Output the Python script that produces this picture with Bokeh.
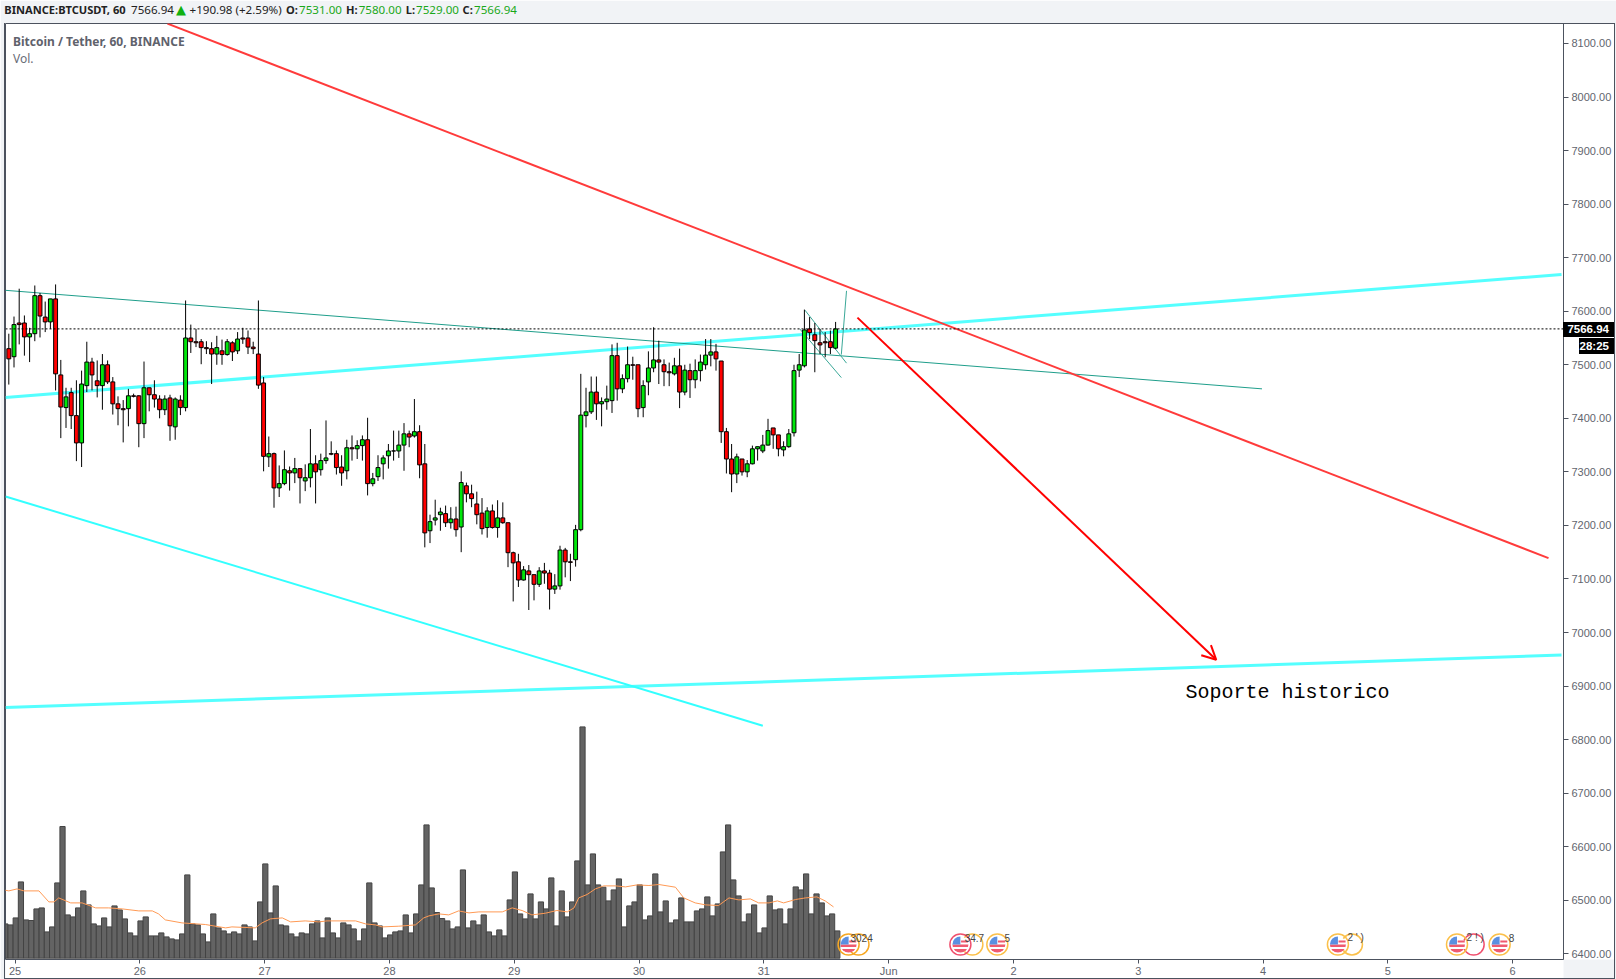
from bokeh.plotting import figure
from bokeh.models import (Range1d, FixedTicker, NumeralTickFormatter, Label, Div,
                          Span, Arrow, OpenHead)
from bokeh.layouts import column
from bokeh.core.properties import value
from bokeh.embed import file_html
from bokeh.resources import INLINE
import math

# ------------------------------------------------------------- data
open_ = [7530,7515,7578,7578,7552,7558,7629,7589,7580,7623,
7481,7420,7448,7405,7354,7461,7505,7470,7461,7500,
7468,7427,7418,7418,7442,7442,7390,7457,7444,7436,
7416,7438,7384,7434,7420,7550,7543,7543,7532,7530,
7520,7526,7519,7541,7526,7550,7550,7533,7520,7466,
7328,7334,7270,7278,7302,7298,7306,7283,7289,7315,
7304,7321,7334,7334,7309,7302,7345,7343,7349,7360,
7278,7291,7315,7330,7339,7339,7350,7371,7367,7375,
7315,7190,7210,7220,7222,7205,7212,7197,7274,7259,
7240,7223,7196,7227,7196,7214,7205,7149,7132,7098,
7115,7108,7090,7115,7111,7081,7087,7154,7132,7136,
7192,7405,7412,7449,7427,7431,7433,7517,7455,7474,
7500,7500,7420,7468,7494,7509,7500,7487,7483,7498,
7449,7489,7472,7489,7500,7518,7524,7507,7375,7324,
7296,7324,7300,7315,7343,7339,7350,7382,7369,7341,
7347,7373,7490,7498,7567,7556,7541,7543,7543,7531]
high = [7558,7590,7642,7592,7569,7648,7634,7618,7623,7650,
7509,7457,7457,7471,7489,7543,7513,7508,7520,7508,
7477,7441,7434,7455,7446,7443,7506,7457,7471,7443,
7443,7444,7439,7443,7620,7575,7567,7548,7544,7542,
7554,7547,7548,7544,7561,7569,7564,7543,7620,7477,
7366,7336,7312,7340,7310,7326,7306,7314,7380,7331,
7334,7396,7357,7340,7331,7360,7368,7359,7368,7401,
7298,7331,7331,7352,7377,7377,7391,7377,7436,7387,
7352,7220,7248,7233,7237,7234,7235,7301,7280,7276,
7263,7251,7234,7239,7247,7243,7205,7151,7147,7124,
7126,7108,7122,7130,7117,7109,7162,7158,7147,7201,
7483,7457,7478,7478,7439,7461,7538,7541,7482,7534,
7515,7500,7471,7525,7570,7545,7510,7504,7513,7530,
7500,7502,7510,7519,7548,7548,7539,7507,7382,7352,
7334,7324,7322,7349,7347,7369,7399,7382,7369,7357,
7380,7500,7520,7603,7589,7578,7567,7561,7564,7580]
low = [7463,7495,7538,7517,7505,7544,7551,7561,7567,7452,
7363,7382,7380,7320,7309,7449,7452,7439,7416,7464,
7407,7387,7355,7385,7439,7346,7363,7413,7420,7400,
7406,7358,7360,7406,7413,7522,7533,7501,7520,7464,
7500,7500,7517,7507,7520,7539,7520,7520,7455,7301,
7309,7233,7253,7275,7265,7279,7241,7264,7271,7241,
7293,7315,7331,7295,7274,7286,7321,7324,7321,7256,
7273,7283,7286,7306,7321,7326,7302,7346,7364,7288,
7159,7167,7200,7190,7197,7194,7179,7150,7243,7234,
7202,7183,7177,7194,7177,7203,7122,7058,7085,7097,
7042,7060,7085,7091,7043,7072,7080,7103,7096,7123,
7189,7383,7408,7397,7385,7416,7410,7433,7447,7467,
7472,7402,7402,7443,7486,7464,7460,7460,7480,7419,
7443,7438,7456,7469,7491,7497,7489,7354,7297,7262,
7279,7293,7290,7314,7321,7335,7349,7343,7329,7329,
7345,7366,7477,7495,7548,7486,7520,7514,7520,7529]
close = [7511,7575,7575,7552,7558,7629,7591,7580,7623,7483,
7421,7440,7405,7354,7464,7505,7481,7461,7500,7468,
7427,7418,7416,7442,7441,7390,7457,7444,7436,7416,
7436,7386,7436,7420,7550,7543,7541,7532,7530,7520,
7532,7519,7543,7524,7548,7548,7533,7530,7462,7329,
7334,7270,7278,7304,7298,7306,7289,7289,7315,7300,
7321,7326,7333,7308,7298,7345,7343,7349,7360,7278,
7287,7308,7326,7339,7339,7350,7371,7365,7375,7313,
7186,7207,7214,7225,7205,7212,7192,7280,7259,7250,
7220,7194,7227,7196,7214,7205,7149,7130,7098,7117,
7108,7090,7115,7111,7081,7087,7154,7132,7131,7192,
7406,7412,7449,7427,7431,7436,7517,7455,7474,7500,
7499,7418,7461,7494,7509,7505,7487,7485,7498,7449,
7490,7472,7489,7505,7518,7524,7511,7375,7324,7296,
7328,7300,7315,7343,7347,7350,7377,7369,7343,7347,
7371,7489,7500,7565,7560,7545,7537,7541,7532,7566.94]
volume = [343,
333,403,763,383,377,493,503,263,313,753,
1317,433,413,503,673,533,343,323,403,313,
523,483,393,253,223,373,413,223,223,253,
213,193,183,243,833,343,333,243,163,443,
303,273,243,263,243,333,313,173,563,943,
453,723,333,323,243,213,253,243,343,373,
203,403,253,203,353,333,293,173,293,753,
353,323,203,233,263,273,433,253,443,733,
1333,703,457,397,373,293,313,883,303,373,
333,433,263,223,283,223,583,863,443,393,
643,393,563,493,803,323,673,413,563,973,
2313,733,1043,733,710,573,683,793,313,523,
563,733,383,423,843,463,573,353,383,603,
363,363,473,493,613,423,543,1063,1333,783,
623,363,443,533,253,303,623,483,493,343,
493,713,683,843,443,643,553,423,443,273]
ma_hour = [-1,0,1.6,2.9,5.8,7.7,8.7,9.6,11.9,14.1,16.7,19.2,21.8,25,27.6,28.8,30.1,33.3,37.8,41.7,42.9,47.4,48.7,50.3,52.6,54.2,57,59.6,61.2,63.5,66.7,68.6,70.5,71.8,75,78.2,79.8,80.8,82.7,84.6,86.5,88.5,90.4,94.9,96.8,98.7,100.6,103.2,105.4,107.4,108.7,109.6,111.2,112.8,114.4,116.7,118.6,120.8,123.1,125,128.2,129.8,132,134,136.5,138.5,140.4,142.6,144.2,146.2,147.8,149,151.3,153.2,155.4,157,158.6]
ma_value = [683,673,693,673,673,563,563,603,553,553,503,503,493,473,473,443,383,353,337,303,313,303,353,393,403,363,373,363,373,373,373,343,333,313,320,333,403,423,443,433,473,453,463,463,503,477,433,450,477,463,503,603,637,693,723,723,713,733,727,737,710,603,553,533,527,603,583,593,553,553,573,553,587,603,613,573,513]

day_hours = [1.2,25.2,49.2,73.2,97.2,121.2,145.2,169.2,193.2,217.2,241.2,265.2,289.2]
day_labels = ["25","26","27","28","29","30","31","Jun","2","3","4","5","6"]
price_ticks = list(range(6400, 8101, 100))
last_price = 7566.94

red_trend_x, red_trend_y = [30.5, 296.1], [8137, 7139]
cyan_up_x, cyan_up_y = [-0.64, 298.6], [7439, 7668.5]
cyan_base_x, cyan_base_y = [-0.64, 298.6], [6860, 6958]
cyan_down_x, cyan_down_y = [-0.64, 145], [7254, 6826]
teal_long_x, teal_long_y = [-0.64, 241], [7639, 7455]
flag_a_x, flag_a_y = [153.1, 161.1], [7602, 7503]
flag_b_x, flag_b_y = [152.1, 160.1], [7567, 7476]
flag_c_x, flag_c_y = [160.1, 161.1], [7519, 7638]
arrow_x, arrow_y = [163.2, 232.2], [7588, 6949]

event_hour = [161.5, 183.0, 190.1, 255.6, 278.5, 286.7]
event_ring = ["#f7a823", "#f0506e", "#fbc04a", "#fbc04a", "#fbc04a", "#fbc04a"]
ring2_hour = [163.4, 185.3, 258.3, 281.7]
ring2_color = ["#f7a823", "#fbc04a", "#fbc04a", "#f0506e"]
event_text_hour = [164, 185.7, 192, 259, 282, 289]
event_text = ["3024", "34.7", "5", "2 ' )", "2 ! )", "8"]

# ------------------------------------------------------------- layout helpers
HOUR_PX, X0 = 5.2, 8.3
PRICE_PX, Y_REF, P_REF = 0.5355, 310.7, 7600
X = lambda px: (px - X0) / HOUR_PX
Y = lambda py: P_REF - (py - Y_REF) / PRICE_PX
FL, FR, FT, FB = 5, 1563, 23, 959
VOL_SHIFT = 0.33
SX = lambda px: px - FL      # "screen" units count from the frame's lower left corner
SY = lambda py: FB - py

p = figure(width=1616, height=979, output_backend="svg", toolbar_location=None,
           x_range=Range1d(X(FL), X(FR)), y_range=Range1d(Y(FB), Y(FT)),
           y_axis_location="right", min_border_left=FL, min_border_right=1616 - FR,
           min_border_top=FT, min_border_bottom=979 - FB,
           border_fill_color="#f1f3f6", background_fill_color="#ffffff")
p.grid.visible = False
p.outline_line_color = "#4c525e"
p.extra_y_ranges = {"vol": Range1d(-13, 9347)}

ax = p.yaxis[0]
ax.ticker = FixedTicker(ticks=price_ticks)
ax.formatter = NumeralTickFormatter(format="0.00")
ax.major_tick_in, ax.major_tick_out = 0, 5
ax.minor_tick_line_color = None
ax.axis_line_color = "#4c525e"
ax.major_tick_line_color = "#4c525e"
ax.major_label_text_color = "#62656e"
ax.major_label_text_font = "Liberation Sans"
ax.major_label_text_font_size = "11px"
ax.major_label_standoff = 3
ax.background_fill_color = "#ffffff"

bx = p.xaxis[0]
bx.ticker = FixedTicker(ticks=day_hours)
bx.major_label_overrides = dict(zip(day_hours, day_labels))
bx.major_tick_in, bx.major_tick_out = 0, 4
bx.minor_tick_line_color = None
bx.axis_line_color = "#4c525e"
bx.major_tick_line_color = "#4c525e"
bx.major_label_text_color = "#62656e"
bx.major_label_text_font = "Liberation Sans"
bx.major_label_text_font_size = "11px"
bx.major_label_standoff = 1
bx.background_fill_color = "#ffffff"

# ------------------------------------------------------------- volume pane
vol_x = [i - 1 + VOL_SHIFT for i in range(len(volume))]
p.vbar(x=vol_x, top=volume, bottom=0, width=1.0, y_range_name="vol",
       fill_color="#636363", line_color="#444444", line_width=1)
p.line(ma_hour, ma_value, y_range_name="vol", line_color="#ff9a55", line_width=1)

# ------------------------------------------------------------- drawn lines
p.line(cyan_up_x, cyan_up_y, line_color="#55ffff", line_width=3)
p.line(cyan_base_x, cyan_base_y, line_color="#55ffff", line_width=3)
p.line(cyan_down_x, cyan_down_y, line_color="#33ffff", line_width=2)
p.line(teal_long_x, teal_long_y, line_color="#1f9e8b", line_width=1)
p.line(red_trend_x, red_trend_y, line_color="#ff3b3b", line_width=2)
for fx, fy in [(flag_a_x, flag_a_y), (flag_b_x, flag_b_y), (flag_c_x, flag_c_y)]:
    p.line(fx, fy, line_color="#3aa898", line_width=1)

# ------------------------------------------------------------- candles
n = len(close)
hours = list(range(n))
cols = ["#00e60a" if close[i] >= open_[i] else "#ff0000" for i in range(n)]
tops = [max(open_[i], close[i]) for i in range(n)]
bots = [min(open_[i], close[i]) for i in range(n)]
p.segment(hours, low, hours, high, line_color="#000000", line_width=1)
p.vbar(x=hours, top=tops, bottom=bots, width=0.75, fill_color=cols, line_color="#000000", line_width=1)

p.add_layout(Span(location=last_price, dimension="width", line_color="#000000", line_width=1, line_dash="2 2"))
p.add_layout(Arrow(end=OpenHead(size=14, line_color="#ff0000", line_width=2),
                   x_start=arrow_x[0], y_start=arrow_y[0], x_end=arrow_x[1], y_end=arrow_y[1],
                   line_color="#ff0000", line_width=2))

# ------------------------------------------------------------- event icons
EV_Y = Y(944)
ev_y = [EV_Y] * len(event_hour)
p.scatter(ring2_hour, [EV_Y] * len(ring2_hour), marker="circle", size=21, fill_color=None,
          line_color=ring2_color, line_width=1.5)
p.scatter(event_hour, ev_y, marker="circle", size=21, fill_color=None,
          line_color=event_ring, line_width=1.5)
p.scatter(event_hour, ev_y, marker="circle", size=16, fill_color="#ffffff", line_color=None)
p.wedge(event_hour, ev_y, radius=8, radius_units="screen", start_angle=math.pi,
        end_angle=2 * math.pi, fill_color="#ef5a6f", line_color=None)
p.wedge(event_hour, ev_y, radius=8, radius_units="screen", start_angle=math.pi / 2,
        end_angle=math.pi, fill_color="#5b8fe0", line_color=None)
p.rect(event_hour, [Y(947.5)] * len(event_hour), width=16, height=2, width_units="screen", height_units="screen",
       fill_color="white", line_color=None)
p.rect([h + 0.8 for h in event_hour], [Y(941)] * len(event_hour), width=7, height=2, width_units="screen",
       height_units="screen", fill_color="#ef5a6f", line_color=None)
p.text(event_text_hour, [Y(937)] * len(event_text), text=event_text, text_align="center", text_baseline="middle",
       text_font=value("Liberation Sans"), text_font_size="10px", text_color="#444444")

# ------------------------------------------------------------- labels inside the frame
def lab(px, py, text, color="#000000", size="12px", font="Noto Sans", style="normal", align="left", level="overlay"):
    p.add_layout(Label(x=SX(px), y=SY(py), x_units="screen", y_units="screen", text=text, text_color=color,
                       text_font_size=size, text_font=font, level=level,
                       text_font_style=style, text_baseline="middle", text_align=align))

lab(12.5, 40.5, "Bitcoin / Tether, 60, BINANCE", color="#5f626c", style="bold", size="12px")
lab(12.5, 57.5, "Vol.", color="#6a6d78", size="12px")
lab(1185, 691.5, "Soporte historico", font="Liberation Mono", size="20px")

# ------------------------------------------------------------- header, price tags and outer border (HTML on top)
GREEN, INK, EDGE = "#1aa81a", "#222222", "#4c525e"
def t(px, text, color=INK, bold=False, family="Noto Sans", size=11.6):
    if bold:
        size = 11.1
    return (f'<span style="position:absolute;left:{px}px;top:2px;line-height:16px;white-space:nowrap;'
            f'font-family:\'{family}\';font-size:{size}px;color:{color};font-weight:{700 if bold else 400}">{text}</span>')
def tag(left, top, w, h, text):
    return (f'<div style="position:absolute;left:{left}px;top:{top}px;width:{w}px;height:{h}px;background:#000;color:#fff;'
            f'font:bold 11.5px \'Liberation Sans\';line-height:{h}px;text-align:right;padding-right:5px;box-sizing:border-box">{text}</div>')
def bar(left, top, w, h):
    return f'<div style="position:absolute;left:{left}px;top:{top}px;width:{w}px;height:{h}px;background:{EDGE}"></div>'

parts = [t(4.3, "BINANCE:BTCUSDT, 60", bold=True), t(131, "7566.94"),
         t(176, "▲", color="#10b010", family="DejaVu Sans", size=13), t(189.5, "+190.98 (+2.59%)")]
for xp, s in [(286, "O:"), (346, "H:"), (405.7, "L:"), (462.6, "C:")]:
    parts.append(t(xp, s, bold=True))
for xp, s in [(299, "7531.00"), (358.7, "7580.00"), (416, "7529.00"), (474, "7566.94")]:
    parts.append(t(xp, s, color=GREEN))
parts += [tag(FR, 322, 51, 15, "7566.94"), tag(1579, 338, 35, 16, "28:25")]
parts += [bar(1614, FT, 1, 956), bar(4, 978, 1611, 1), bar(FR, FT, 52, 1), bar(4, FT, 1, 956)]

overlay = Div(text="".join(parts), width=1616, height=979, margin=0,
              styles={"position": "absolute", "left": "0px", "top": "0px", "pointer-events": "none"})

root = column(p, overlay, spacing=0)
open("out.html", "w").write(file_html(root, INLINE))
